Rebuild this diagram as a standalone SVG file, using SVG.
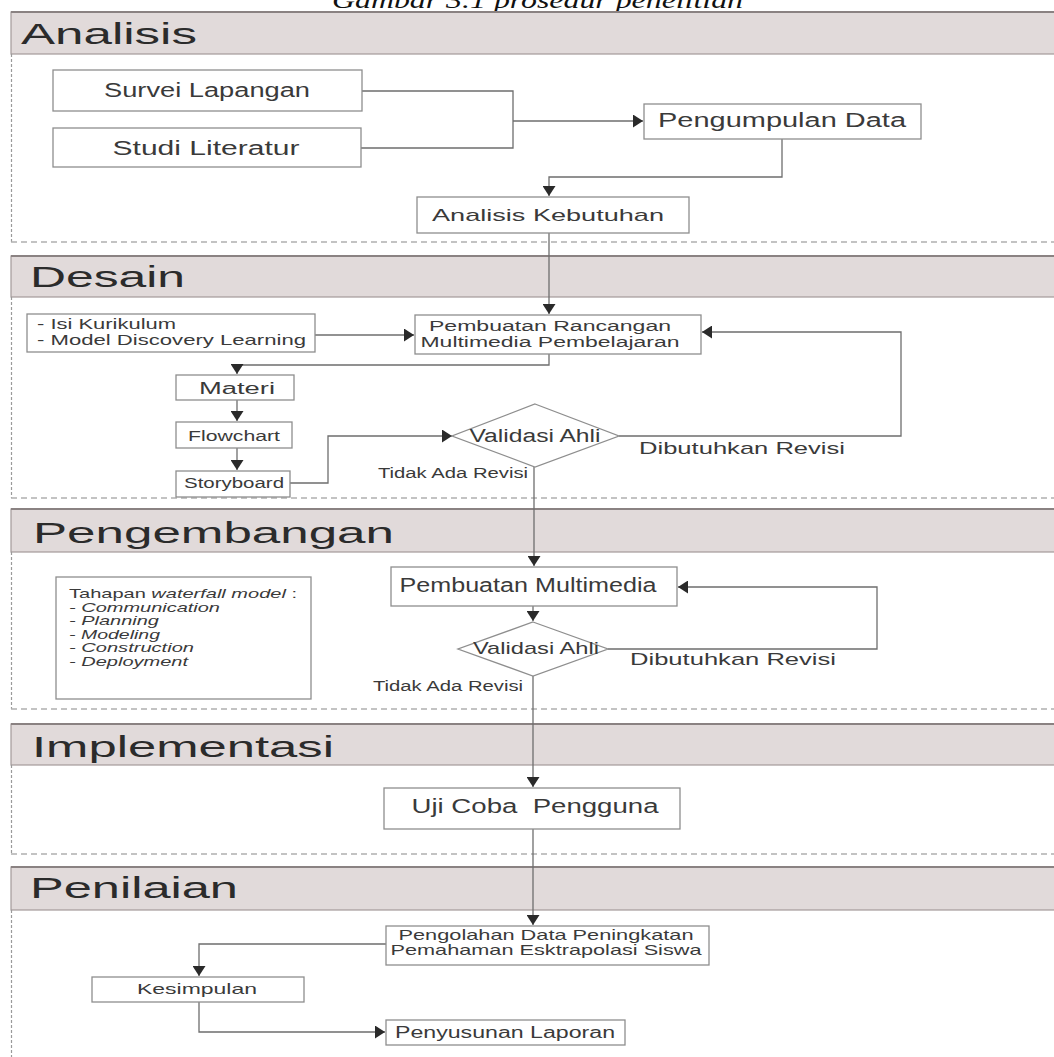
<svg xmlns="http://www.w3.org/2000/svg" width="1054" height="1057" viewBox="0 0 1054 1057">
<style>
  .band { fill: #e1dada; stroke: #a39a9a; stroke-width: 1.2; }
  .bandtop { stroke: #8a8282; stroke-width: 2; }
  .bt { font-family: "Liberation Sans", Arial, sans-serif; font-size: 30px; fill: #2b2b2b; lengthAdjust: spacingAndGlyphs; }
  .box { fill: #ffffff; stroke: #8e8e8e; stroke-width: 1.3; }
  .t { font-family: "Liberation Sans", Arial, sans-serif; fill: #3a3a3a; text-anchor: middle; }
  .tl { font-family: "Liberation Sans", Arial, sans-serif; fill: #3a3a3a; }
  .dash { stroke: #b0b0b0; stroke-width: 1.5; stroke-dasharray: 6 4; fill: none; }
  .dot { stroke: #9a9a9a; stroke-width: 1.2; stroke-dasharray: 3 2; fill: none; }
  .c { fill: none; stroke: #6e6e6e; stroke-width: 1.3; }
  .ca { fill: none; stroke: #6e6e6e; stroke-width: 1.3; marker-end: url(#arr); }
</style>
<defs>
  <marker id="arr" markerUnits="userSpaceOnUse" markerWidth="10" markerHeight="13" viewBox="0 0 10 13" refX="10" refY="6.5" orient="auto">
    <path d="M0,0 L10,6.5 L0,13 z" fill="#2a2a2a"/>
  </marker>
</defs>
<rect x="0" y="0" width="1054" height="1057" fill="#ffffff"/>

<text id="title" x="332" y="8" font-family="Liberation Serif, Times New Roman, serif" font-style="italic" font-size="24" fill="#111" textLength="411" lengthAdjust="spacingAndGlyphs">Gambar 3.1 prosedur penelitian</text>

<g id="lanes">
  <g id="lane-analisis">
    <rect class="band" x="11" y="12" width="1044" height="42"/>
    <line class="bandtop" x1="11" y1="12" x2="1054" y2="12"/>
    <text class="bt" x="21" y="44" textLength="176" lengthAdjust="spacingAndGlyphs">Analisis</text>
    <line class="dot" x1="11.5" y1="54" x2="11.5" y2="242"/>
    <line class="dash" x1="11" y1="242" x2="1054" y2="242"/>
  </g>
  <g id="lane-desain">
    <rect class="band" x="11" y="256" width="1044" height="41"/>
    <line class="bandtop" x1="11" y1="256" x2="1054" y2="256"/>
    <text class="bt" x="30" y="287" textLength="155" lengthAdjust="spacingAndGlyphs">Desain</text>
    <line class="dot" x1="11.5" y1="297" x2="11.5" y2="498"/>
    <line class="dash" x1="11" y1="498" x2="1054" y2="498"/>
  </g>
  <g id="lane-pengembangan">
    <rect class="band" x="11" y="509" width="1044" height="43"/>
    <line class="bandtop" x1="11" y1="509" x2="1054" y2="509"/>
    <text class="bt" x="33" y="543" textLength="361" lengthAdjust="spacingAndGlyphs">Pengembangan</text>
    <line class="dot" x1="11.5" y1="552" x2="11.5" y2="709"/>
    <line class="dash" x1="11" y1="709" x2="1054" y2="709"/>
  </g>
  <g id="lane-implementasi">
    <rect class="band" x="11" y="724" width="1044" height="41"/>
    <line class="bandtop" x1="11" y1="724" x2="1054" y2="724"/>
    <text class="bt" x="32" y="757" textLength="302" lengthAdjust="spacingAndGlyphs">Implementasi</text>
    <line class="dot" x1="11.5" y1="765" x2="11.5" y2="854"/>
    <line class="dash" x1="11" y1="854" x2="1054" y2="854"/>
  </g>
  <g id="lane-penilaian">
    <rect class="band" x="11" y="867" width="1044" height="43"/>
    <line class="bandtop" x1="11" y1="867" x2="1054" y2="867"/>
    <text class="bt" x="30" y="898" textLength="208" lengthAdjust="spacingAndGlyphs">Penilaian</text>
    <line class="dot" x1="11.5" y1="910" x2="11.5" y2="1057"/>
  </g>
</g>

<g id="connectors">
  <path class="c" d="M362,91 H513 V148 H361"/>
  <path class="ca" d="M513,121 H643"/>
  <path class="ca" d="M782,139 V177 H549 V196"/>
  <path class="ca" d="M549,233 V314"/>
  <path class="ca" d="M315,335 H414"/>
  <path class="ca" d="M549,354 V365 H237 V374"/>
  <path class="ca" d="M237,400 V421"/>
  <path class="ca" d="M237,448 V470"/>
  <path class="ca" d="M290,483 H328 V436 H452"/>
  <path class="ca" d="M619,436 H901 V332 H702"/>
  <path class="ca" d="M534,467 V566"/>
  <path class="ca" d="M533,606 V621"/>
  <path class="ca" d="M608,649 H877 V587 H678"/>
  <path class="ca" d="M533,676 V787"/>
  <path class="ca" d="M533,829 V925"/>
  <path class="ca" d="M386,944 H199 V976"/>
  <path class="ca" d="M199,1002 V1032 H385"/>
</g>

<g id="survei">
  <rect class="box" x="53" y="70" width="309" height="41"/>
  <text class="t" x="207" y="97" font-size="20" textLength="206" lengthAdjust="spacingAndGlyphs">Survei Lapangan</text>
</g>
<g id="studi">
  <rect class="box" x="53" y="128" width="308" height="39"/>
  <text class="t" x="206" y="155" font-size="20" textLength="187" lengthAdjust="spacingAndGlyphs">Studi Literatur</text>
</g>
<g id="pengumpulan">
  <rect class="box" x="644" y="104" width="277" height="35"/>
  <text class="t" x="782" y="127" font-size="20" textLength="248" lengthAdjust="spacingAndGlyphs">Pengumpulan Data</text>
</g>
<g id="analisis-kebutuhan">
  <rect class="box" x="417" y="197" width="272" height="36"/>
  <text class="t" x="548" y="221" font-size="17" textLength="232" lengthAdjust="spacingAndGlyphs">Analisis Kebutuhan</text>
</g>

<g id="kurikulum">
  <rect class="box" x="27" y="314" width="288" height="38"/>
  <text class="tl" x="37" y="329" font-size="15" textLength="139" lengthAdjust="spacingAndGlyphs">- Isi Kurikulum</text>
  <text class="tl" x="37" y="345" font-size="15" textLength="269" lengthAdjust="spacingAndGlyphs">- Model Discovery Learning</text>
</g>
<g id="rancangan">
  <rect class="box" x="415" y="315" width="286" height="39"/>
  <text class="t" x="550" y="331" font-size="14" textLength="242" lengthAdjust="spacingAndGlyphs">Pembuatan Rancangan</text>
  <text class="t" x="550" y="347" font-size="14" textLength="259" lengthAdjust="spacingAndGlyphs">Multimedia Pembelajaran</text>
</g>
<g id="materi">
  <rect class="box" x="176" y="375" width="118" height="25"/>
  <text class="t" x="237" y="394" font-size="16" textLength="76" lengthAdjust="spacingAndGlyphs">Materi</text>
</g>
<g id="flowchart">
  <rect class="box" x="176" y="422" width="116" height="26"/>
  <text class="t" x="234" y="441" font-size="14" textLength="92" lengthAdjust="spacingAndGlyphs">Flowchart</text>
</g>
<g id="storyboard">
  <rect class="box" x="176" y="471" width="114" height="26"/>
  <text class="t" x="234" y="488" font-size="14" textLength="100" lengthAdjust="spacingAndGlyphs">Storyboard</text>
</g>
<g id="validasi-1">
  <polygon class="box" points="535,404 619,436 535,467 452,436"/>
  <text class="t" x="535" y="442" font-size="18" textLength="131" lengthAdjust="spacingAndGlyphs">Validasi Ahli</text>
</g>
<g id="label-revisi-1">
  <text class="t" x="742" y="454" font-size="17" textLength="206" lengthAdjust="spacingAndGlyphs">Dibutuhkan Revisi</text>
  <text class="t" x="453" y="478" font-size="14" textLength="150" lengthAdjust="spacingAndGlyphs">Tidak Ada Revisi</text>
</g>

<g id="waterfall">
  <rect class="box" x="56" y="577" width="255" height="122"/>
  <text class="tl" x="69" y="598" font-size="13" textLength="228" lengthAdjust="spacingAndGlyphs">Tahapan <tspan font-style="italic">waterfall model</tspan> :</text>
  <text class="tl" x="69" y="611.5" font-size="13" font-style="italic" textLength="151" lengthAdjust="spacingAndGlyphs">- Communication</text>
  <text class="tl" x="69" y="625" font-size="13" font-style="italic" textLength="90" lengthAdjust="spacingAndGlyphs">- Planning</text>
  <text class="tl" x="69" y="638.5" font-size="13" font-style="italic" textLength="91" lengthAdjust="spacingAndGlyphs">- Modeling</text>
  <text class="tl" x="69" y="652" font-size="13" font-style="italic" textLength="125" lengthAdjust="spacingAndGlyphs">- Construction</text>
  <text class="tl" x="69" y="665.5" font-size="13" font-style="italic" textLength="119" lengthAdjust="spacingAndGlyphs">- Deployment</text>
</g>
<g id="pembuatan-multimedia">
  <rect class="box" x="391" y="567" width="286" height="39"/>
  <text class="t" x="528" y="592" font-size="20" textLength="257" lengthAdjust="spacingAndGlyphs">Pembuatan Multimedia</text>
</g>
<g id="validasi-2">
  <polygon class="box" points="533,622 608,649 533,676 458,649"/>
  <text class="t" x="536" y="654" font-size="17" textLength="126" lengthAdjust="spacingAndGlyphs">Validasi Ahli</text>
</g>
<g id="label-revisi-2">
  <text class="t" x="733" y="665" font-size="17" textLength="206" lengthAdjust="spacingAndGlyphs">Dibutuhkan Revisi</text>
  <text class="t" x="448" y="691" font-size="14" textLength="150" lengthAdjust="spacingAndGlyphs">Tidak Ada Revisi</text>
</g>

<g id="uji-coba">
  <rect class="box" x="384" y="788" width="296" height="41"/>
  <text class="t" x="535" y="813" font-size="20" xml:space="preserve" textLength="247" lengthAdjust="spacingAndGlyphs">Uji Coba  Pengguna</text>
</g>

<g id="pengolahan">
  <rect class="box" x="386" y="926" width="323" height="39"/>
  <text class="t" x="546" y="940" font-size="15" textLength="295" lengthAdjust="spacingAndGlyphs">Pengolahan Data Peningkatan</text>
  <text class="t" x="546" y="955" font-size="15" textLength="311" lengthAdjust="spacingAndGlyphs">Pemahaman Esktrapolasi Siswa</text>
</g>
<g id="kesimpulan">
  <rect class="box" x="92" y="977" width="212" height="25"/>
  <text class="t" x="197" y="994" font-size="15" textLength="120" lengthAdjust="spacingAndGlyphs">Kesimpulan</text>
</g>
<g id="penyusunan">
  <rect class="box" x="386" y="1020" width="239" height="25"/>
  <text class="t" x="505" y="1038" font-size="16" textLength="220" lengthAdjust="spacingAndGlyphs">Penyusunan Laporan</text>
</g>
</svg>
